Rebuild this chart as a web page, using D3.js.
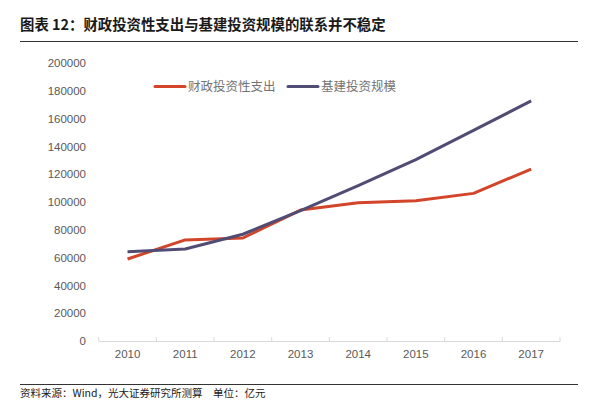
<!DOCTYPE html>
<html><head><meta charset="utf-8">
<script src="https://cdn.jsdelivr.net/npm/d3@7"></script>
<style>body{margin:0;background:#fff}svg{display:block}</style>
</head><body>
<script>
const years = ["2010","2011","2012","2013","2014","2015","2016","2017"];
const fiscal = [59000, 72700, 74100, 94200, 99500, 100900, 106200, 123700];
const infra = [64200, 66200, 76800, 93800, 111700, 130500, 151500, 172700];
const seriesNames = ["财政投资性支出", "基建投资规模"];
const seriesColors = ["#d2452a", "#514c74"];
const yTicks = [0,20000,40000,60000,80000,100000,120000,140000,160000,180000,200000];

const W = 600, H = 409;
const svg = d3.select("body").append("svg").attr("width", W).attr("height", H);
const font = "'Noto Sans CJK SC','Noto Sans',sans-serif";

svg.append("text").attr("x", 20).attr("y", 29.5).text("图表 12：财政投资性支出与基建投资规模的联系并不稳定")
  .attr("font-family", font).attr("font-weight", "bold").attr("font-size", 14.4).attr("fill", "#1a1a1a");
svg.append("line").attr("x1", 20).attr("x2", 578).attr("y1", 41.5).attr("y2", 41.5).attr("stroke", "#333").attr("stroke-width", 1);

const x = d3.scaleBand().domain(years).range([98.7, 560]);
const y = d3.scaleLinear().domain([0, 200000]).range([341, 63]);

// y labels
const ya = svg.append("g").attr("transform", "translate(90,0)")
  .call(d3.axisLeft(y).tickValues(yTicks).tickSize(0).tickPadding(4).tickFormat(d3.format("d")));
ya.select(".domain").remove();
ya.selectAll("text").attr("font-family", "'Liberation Sans',Arial,sans-serif").attr("font-size", 11.5).attr("fill", "#595959");

// x axis
const xa = svg.append("g").attr("transform", "translate(0,341)")
  .call(d3.axisBottom(x).tickSize(0).tickPadding(9));
xa.select(".domain").attr("stroke", "#d9d9d9");
xa.selectAll("text").attr("font-family", "'Liberation Sans',Arial,sans-serif").attr("font-size", 11.5).attr("fill", "#595959");
const bounds = years.map(d => x(d)).concat([x.range()[1]]);
svg.append("g").selectAll("line").data(bounds).join("line")
  .attr("x1", d => d).attr("x2", d => d).attr("y1", 341).attr("y2", 337)
  .attr("stroke", "#d9d9d9");

const line = d3.line().x((d, i) => x(years[i]) + x.bandwidth() / 2).y(d => y(d));
[fiscal, infra].forEach((s, k) => {
  svg.append("path").datum(s).attr("d", line).attr("fill", "none")
    .attr("stroke", seriesColors[k]).attr("stroke-width", 3).attr("stroke-linejoin", "round");
});

// legend
const lx = [155, 288];
seriesNames.forEach((n, k) => {
  svg.append("line").attr("x1", lx[k]).attr("x2", lx[k] + 30).attr("y1", 86.5).attr("y2", 86.5)
    .attr("stroke", seriesColors[k]).attr("stroke-width", 3).attr("stroke-linecap", "round");
  svg.append("text").attr("x", lx[k] + 33).attr("y", 91).text(n)
    .attr("font-family", font).attr("font-size", 12.5).attr("fill", "#737373");
});

// footer
svg.append("line").attr("x1", 20).attr("x2", 578).attr("y1", 384.5).attr("y2", 384.5).attr("stroke", "#333").attr("stroke-width", 1);
svg.append("text").attr("x", 20).attr("y", 397).text("资料来源：Wind，光大证券研究所测算　单位：亿元")
  .attr("font-family", font).attr("font-size", 10.5).attr("fill", "#1a1a1a");
</script>
</body></html>
